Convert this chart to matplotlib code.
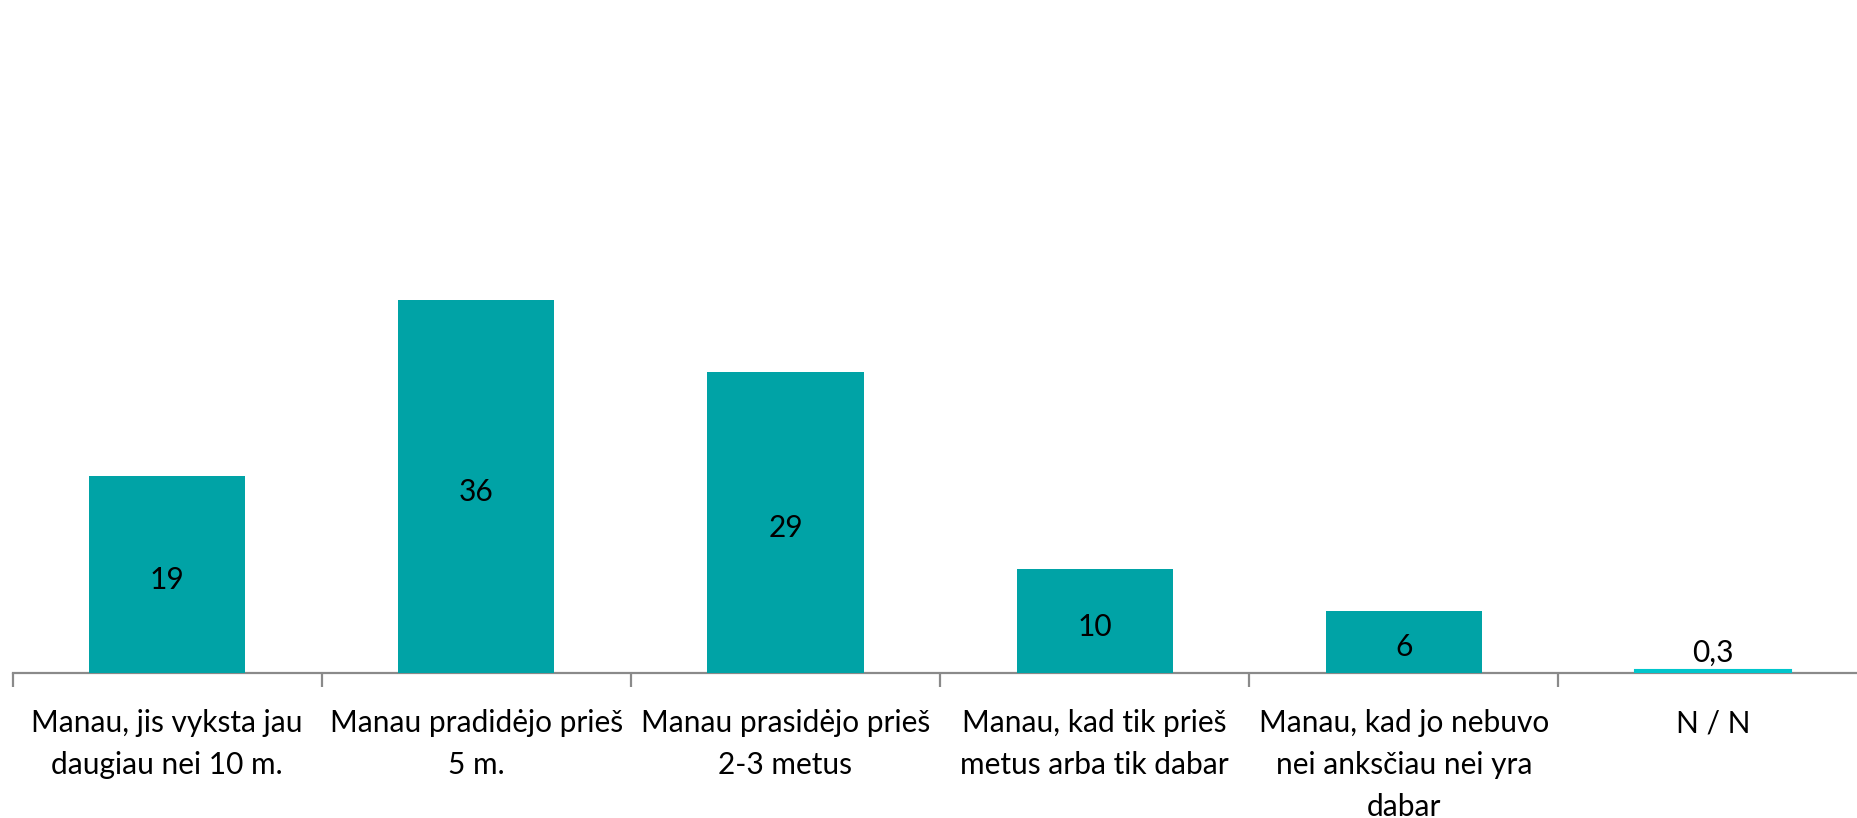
import matplotlib
matplotlib.use("Agg")
import matplotlib.pyplot as plt
from matplotlib.ticker import FixedLocator

categories = [
    "Manau, jis vyksta jau\ndaugiau nei 10 m.",
    "Manau pradidėjo prieš\n5 m.",
    "Manau prasidėjo prieš\n2-3 metus",
    "Manau, kad tik prieš\nmetus arba tik dabar",
    "Manau, kad jo nebuvo\nnei anksčiau nei yra\ndabar",
    "N / N",
]
values = [19, 36, 29, 10, 6, 0.3]
value_labels = ["19", "36", "29", "10", "6", "0,3"]

plt.rcParams['font.family'] = ['Lato', 'DejaVu Sans']

W, H, DPI = 1857, 818, 100
fig = plt.figure(figsize=(W / DPI, H / DPI), dpi=DPI)

axis_y_px = 673.0
left_px = 12.5
cat_w_px = 309.2
px_per_unit = 10.37
ax_bottom = (H - axis_y_px) / H
ax_height = axis_y_px / H
ax_width = 6 * cat_w_px / W
ax = fig.add_axes([left_px / W, ax_bottom, ax_width, ax_height])
ax.set_xlim(-0.5, 5.5)
ax.set_ylim(0, axis_y_px / px_per_unit)

main_color = '#00A3A6'
colors = [main_color] * 5 + ['#00C6CC']
x = list(range(len(categories)))
bars = ax.bar(x, values, width=0.505, color=colors, zorder=3)
bars[5].set_edgecolor('#00C6CC')
bars[5].set_linewidth(1.5)

for i, (v, lab) in enumerate(zip(values, value_labels)):
    if v >= 3:
        ax.annotate(lab, (i, v / 2), xytext=(0, -4), textcoords='offset points',
                    ha='center', va='center', fontsize=21.5, color='black', zorder=4)
    else:
        ax.annotate(lab, (i, v), xytext=(0, 12), textcoords='offset points',
                    ha='center', va='center', fontsize=21.5, color='black', zorder=4)

for s in ['top', 'right', 'left']:
    ax.spines[s].set_visible(False)
ax.spines['bottom'].set_color('#8a8a8a')
ax.spines['bottom'].set_linewidth(1.6)
ax.spines['bottom'].set_zorder(2)
ax.set_yticks([])

ax.set_xticks(x)
ax.set_xticklabels(categories, fontsize=21.5, linespacing=1.6)
ax.tick_params(axis='x', which='major', length=0, pad=26)
ax.xaxis.set_minor_locator(FixedLocator([i - 0.5 for i in range(7)]))
ax.tick_params(axis='x', which='minor', length=10, width=1.6, color='#8a8a8a', direction='out')

fig.savefig('out.png', dpi=DPI)
